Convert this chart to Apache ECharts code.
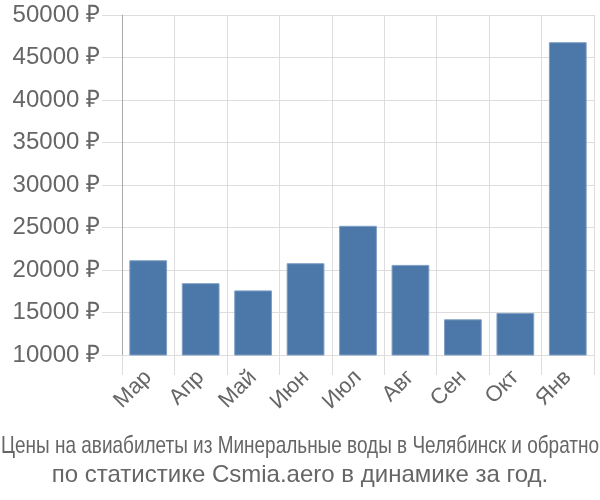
<!DOCTYPE html>
<html><head><meta charset="utf-8">
<script src="https://cdn.jsdelivr.net/npm/echarts@6/dist/echarts.min.js"></script>
<style>html,body{margin:0;padding:0;background:#fff}#c{width:600px;height:500px}</style>
</head><body><div id="c"></div>
<script>
const categories = ['Мар','Апр','Май','Июн','Июл','Авг','Сен','Окт','Янв'];
const prices = [21150, 18450, 17600, 20800, 25200, 20600, 14200, 14950, 46800];
const yMin = 10000, yMax = 50000, yStep = 5000;
const titleLine1 = 'Цены на авиабилеты из Минеральные воды в Челябинск и обратно';
const titleLine2 = 'по статистике Csmia.aero в динамике за год.';

const FONT = '"Liberation Sans", Arial, sans-serif';
const ctx = document.createElement('canvas').getContext('2d');
ctx.font = '24px ' + FONT;
const w1 = ctx.measureText(titleLine1).width;
const sx = Math.min(1, 598 / w1);

const chart = echarts.init(document.getElementById('c'), null, {renderer:'canvas'});
chart.setOption({
  animation:false,
  backgroundColor:'#fff',
  grid:{left:122,right:6,top:15,bottom:145,containLabel:false},
  xAxis:{type:'category',data:categories,boundaryGap:true,
    axisLine:{show:true,lineStyle:{color:'#ddd',width:1}},
    axisTick:{show:true,length:20,alignWithLabel:false,lineStyle:{color:'#ddd'}},
    splitLine:{show:true,lineStyle:{color:'#ddd',width:1}},
    axisLabel:{rotate:45,margin:19,fontSize:22,color:'#666',fontFamily:FONT}},
  yAxis:{type:'value',min:yMin,max:yMax,interval:yStep,
    axisLine:{show:true,lineStyle:{color:'#aaa',width:1}},
    axisTick:{show:true,length:20,lineStyle:{color:'#ddd'}},
    splitLine:{show:true,lineStyle:{color:'#ddd',width:1}},
    axisLabel:{margin:22,fontSize:24,color:'#666',fontFamily:FONT,formatter:v=>v+' ₽'}},
  series:[{type:'bar',data:prices,barCategoryGap:'28%',
    itemStyle:{color:'#4b78a8',borderColor:'#7f9fc4',borderWidth:1}}],
  graphic:[
    {type:'text',left:'center',top:434,scaleX:sx,originX:300,
     style:{text:titleLine1,font:'24px '+FONT,fill:'#666'}},
    {type:'text',left:'center',top:463,
     style:{text:titleLine2,font:'24px '+FONT,fill:'#666'}}
  ]
});
</script></body></html>
